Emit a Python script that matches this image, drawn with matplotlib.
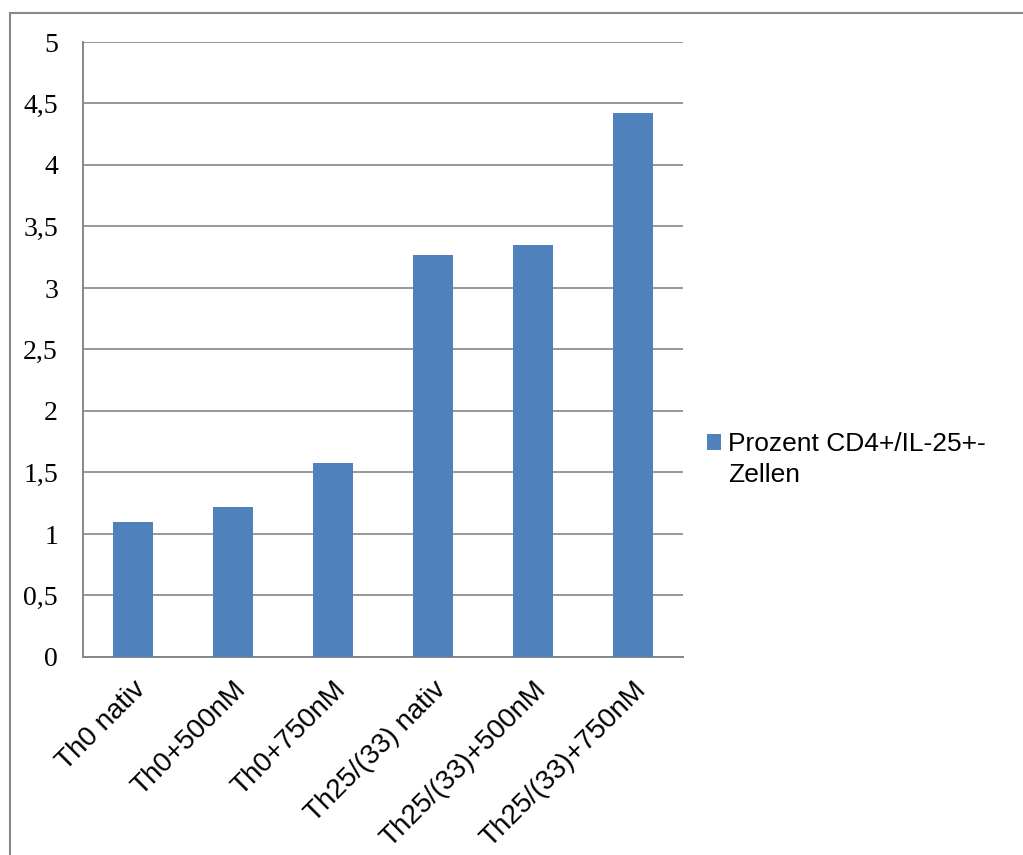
import matplotlib.pyplot as plt
from matplotlib.lines import Line2D
from matplotlib.patches import Patch
import numpy as np

categories = ["Th0 nativ", "Th0+500nM", "Th0+750nM",
              "Th25/(33) nativ", "Th25/(33)+500nM", "Th25/(33)+750nM"]
values = [1.10, 1.22, 1.58, 3.27, 3.35, 4.42]
series_name = ["Prozent CD4+/IL-25+-", "Zellen"]
y_ticks = [0, 0.5, 1, 1.5, 2, 2.5, 3, 3.5, 4, 4.5, 5]
y_labels = ["0", "0,5", "1", "1,5", "2", "2,5", "3", "3,5", "4", "4,5", "5"]

W, H = 1023, 855
fig = plt.figure(figsize=(W / 100, H / 100), dpi=100)
ax = fig.add_axes([83 / W, 1 - 657 / H, 600 / W, 615 / H])

x = np.arange(len(categories))
ax.bar(x, values, width=0.4, color="#4F81BD", zorder=3)
ax.set_xlim(-0.5, len(categories) - 0.5)
ax.set_ylim(0, 5)

ax.set_yticks(y_ticks)
ax.set_yticklabels(y_labels, fontfamily="Liberation Serif", fontsize=20)
ax.yaxis.grid(True, color="#868686", linewidth=1.2, zorder=0)
ax.tick_params(axis="y", length=0, pad=18)

ax.set_xticks(x)
ax.set_xticklabels(categories, rotation=45, ha="right", va="top",
                   rotation_mode="anchor", fontfamily="Liberation Sans", fontsize=20)
ax.tick_params(axis="x", length=0, pad=14)

for side in ["top", "right"]:
    ax.spines[side].set_visible(False)
for side in ["left", "bottom"]:
    ax.spines[side].set_color("#868686")
    ax.spines[side].set_linewidth(1.4)

# legend to the right of the plot area; the wrapped second line is added as
# plain text so the marker stays level with the first line, like in Excel
handle = Patch(facecolor="#4F81BD", edgecolor="none")
leg = fig.legend([handle], [series_name[0]], loc="center left",
                 bbox_to_anchor=(683 / W, 1 - 444 / H), frameon=False,
                 prop={"family": "Liberation Sans", "size": 19},
                 handlelength=0.55, handleheight=0.55, handletextpad=0.25)
fig.text(728 / W, 1 - 475 / H, series_name[1], ha="left", va="center",
         fontfamily="Liberation Sans", fontsize=19)

# outer chart frame (left and top edges visible)
frame_col = "#888888"
fig.add_artist(Line2D([10 / W, 10 / W], [0, 1 - 13 / H], color=frame_col, lw=1.5))
fig.add_artist(Line2D([10 / W, 1], [1 - 13 / H, 1 - 13 / H], color=frame_col, lw=1.5))

fig.savefig("out.png", dpi=100)
